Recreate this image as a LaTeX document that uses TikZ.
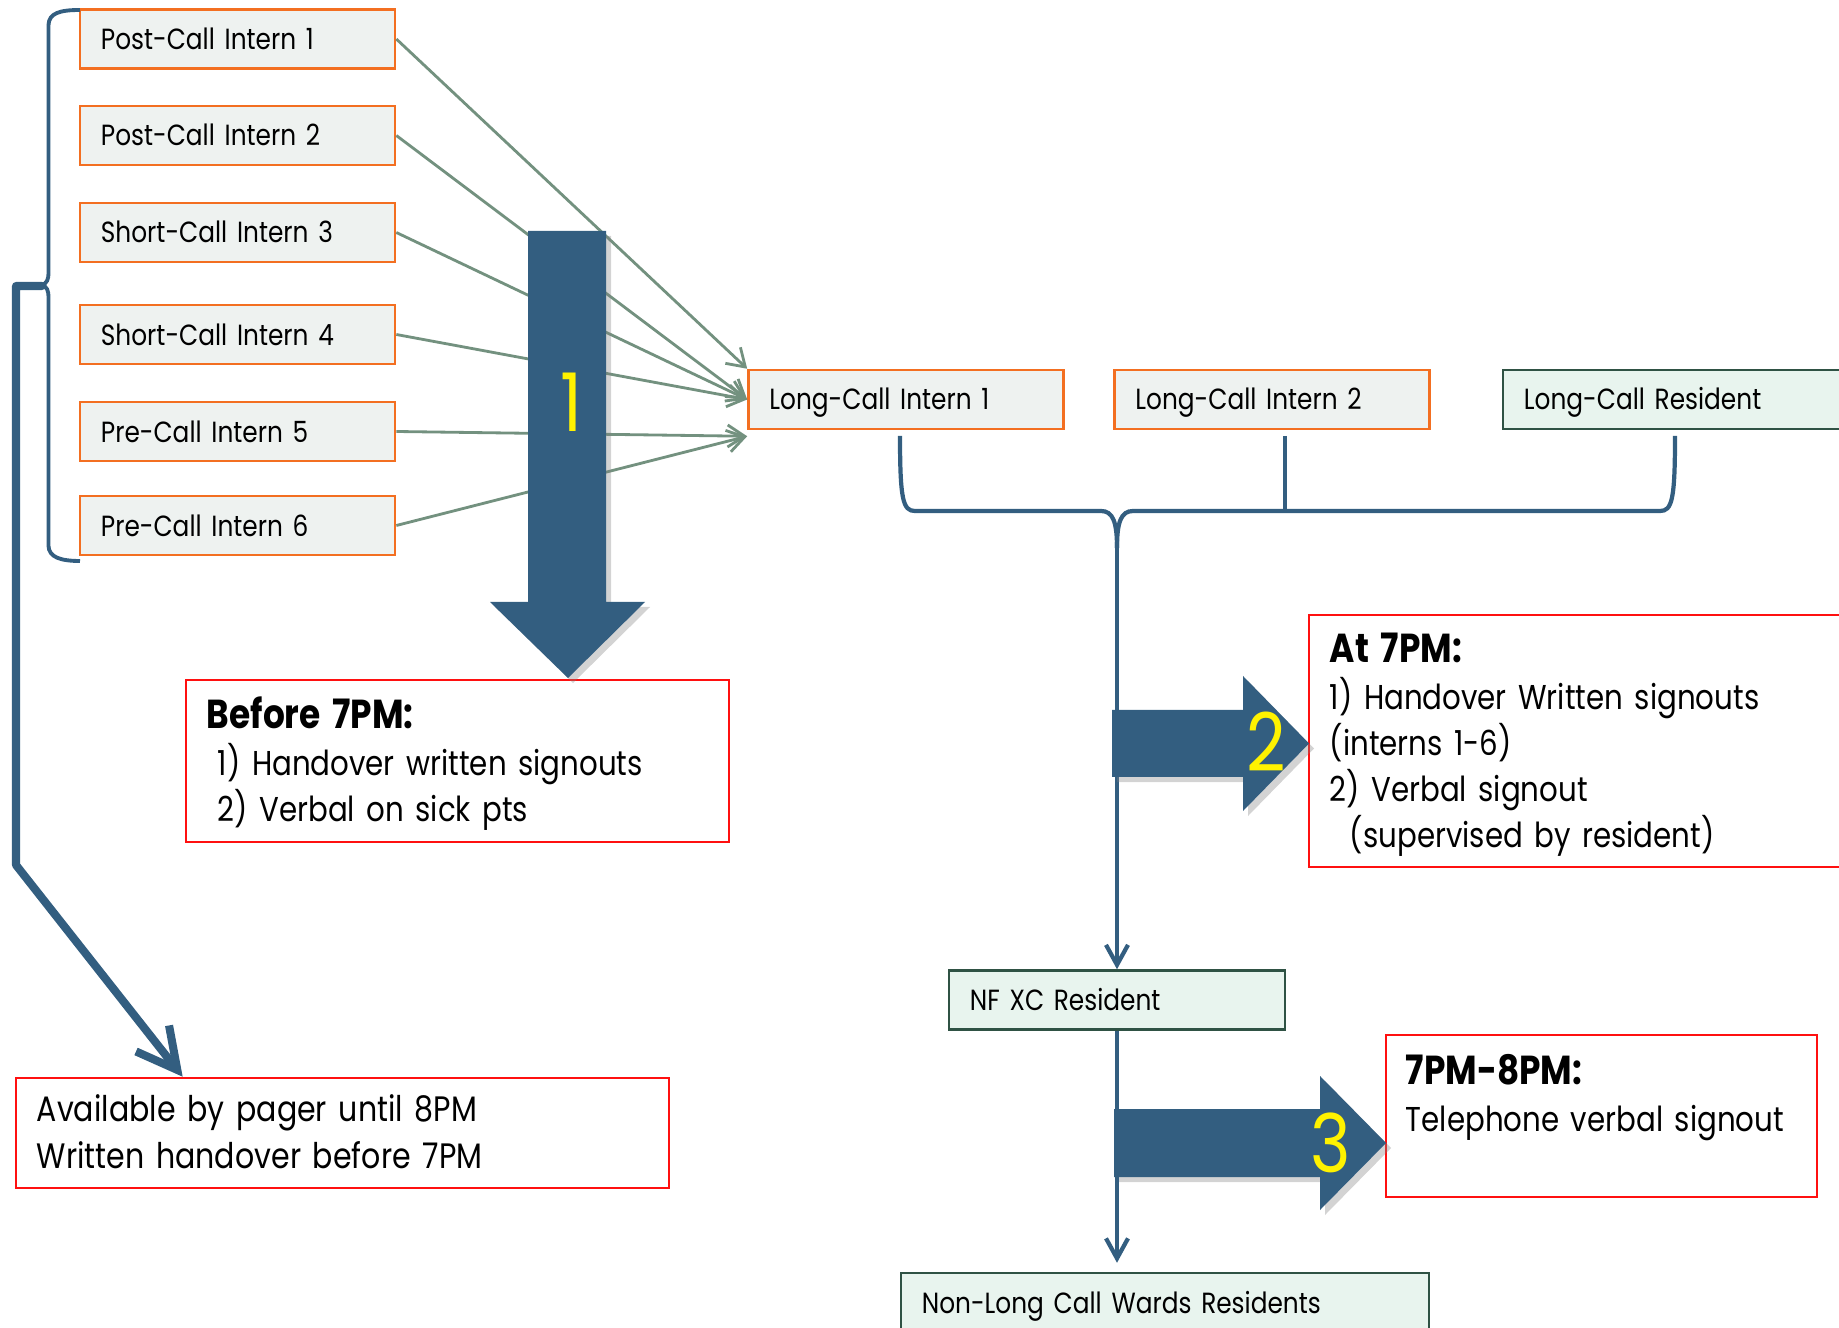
\documentclass[tikz,border=0pt]{standalone}
\usepackage{fontspec}
\setmainfont{Poppins}[FakeStretch=0.85]
\usetikzlibrary{arrows.meta,shadows}
\definecolor{navy}{HTML}{335E80}
\definecolor{boxorange}{HTML}{F36F21}
\definecolor{boxgray}{HTML}{EEF2F0}
\definecolor{resgreen}{HTML}{2F5244}
\definecolor{resfill}{HTML}{E8F4EE}
\definecolor{feedgreen}{HTML}{73917F}
\definecolor{notered}{HTML}{FF1010}
\newcommand{\boxfont}{\fontsize{8.3}{10}\selectfont}
\newcommand{\notefont}{\fontsize{9.8}{13.1}\selectfont}
\newcommand{\headfont}{\bfseries\fontsize{11.5}{13.1}\selectfont}
\tikzset{
  staffbox/.style={draw=boxorange, fill=boxgray, line width=0.7pt, font=\boxfont, align=left,
    inner xsep=0.21cm, inner ysep=0pt, text height=0.40cm, text depth=0.19cm, text width=2.73cm},
  resbox/.style={staffbox, draw=resgreen, fill=resfill},
  notebox/.style={draw=notered, line width=0.7pt, font=\notefont, align=left, inner xsep=0.21cm, inner ysep=0pt},
  feed/.style={draw=feedgreen, line width=0.8pt, -{Straight Barb[length=0.17cm,width=0.22cm]}},
  flow/.style={draw=navy, line width=1.2pt},
  flowtip/.style={flow, -{Straight Barb[length=0.2cm,width=0.22cm]}},
  bigarrow/.style={fill=navy, drop shadow={shadow xshift=0.05cm, shadow yshift=-0.05cm, opacity=0.35}},
  stepnum/.style={text=yellow, font=\fontsize{23}{23}\selectfont, inner sep=0pt}
}
\begin{document}
\begin{tikzpicture}[x=0.01cm, y=-0.01cm]
\useasboundingbox (0,0) rectangle (1839,1328);

% interns handing over
\node[staffbox] (pc1) at (237.5,39) {Post-Call Intern 1};
\node[staffbox] (pc2) at (237.5,135.5) {Post-Call Intern 2};
\node[staffbox] (sc3) at (237.5,232.5) {Short-Call Intern 3};
\node[staffbox] (sc4) at (237.5,334.5) {Short-Call Intern 4};
\node[staffbox] (pre5) at (237.5,431.5) {Pre-Call Intern 5};
\node[staffbox] (pre6) at (237.5,525.5) {Pre-Call Intern 6};

\node[staffbox] (lci1) at (906,399.5) {Long-Call Intern 1};
\node[staffbox] (lci2) at (1272,399.5) {Long-Call Intern 2};
\node[resbox, text width=3.02cm] (lcr) at (1675,399.5) {Long-Call Resident};
\node[resbox, text width=2.94cm] (nfxc) at (1117,1000) {NF XC Resident};
\node[resbox, text width=4.86cm] (wards) at (1165,1302.5) {Non-Long Call Wards Residents};

% notes
\node[notebox, text width=5.01cm, text height=0.49cm, text depth=1.13cm] (before) at (457.5,761)
{{\headfont Before 7PM:}\\\hspace*{0.11cm}1) Handover written signouts\\\hspace*{0.11cm}2) Verbal on sick pts};
\node[notebox, text width=5.0cm, text height=0.48cm, text depth=2.04cm] (atseven) at (1580,741)
{{\headfont At 7PM:}\\1) Handover Written signouts\\(interns 1-6)\\2) Verbal signout\\\hspace*{0.2cm}(supervised by resident)};
\node[notebox, text width=3.91cm, inner xsep=0.2cm, text height=0.50cm, text depth=1.12cm] (late) at (1601.5,1116)
{{\headfont 7PM-8PM:}\\Telephone verbal signout};
\node[notebox, font=\fontsize{10.05}{13.1}\selectfont, text width=6.11cm, text height=0.44cm, text depth=0.66cm] (pager) at (342.5,1133)
{Available by pager until 8PM\\Written handover before 7PM};

\coordinate (lowtip) at ([yshift=-0.06cm]lci1.south west);
\draw[feed] (pc1.east) -- (lci1.north west);
\draw[feed] (pc2.east) -- (lci1.west);
\draw[feed] (sc3.east) -- (lci1.west);
\draw[feed] (sc4.east) -- (lci1.west);
\draw[feed] (pre5.east) -- (lowtip);
\draw[feed] (pre6.east) -- (lowtip);

% brace round the six interns, and the line to the pager note
\draw[navy, line width=1.1pt] (80,10) .. controls (60,10) and (49,13) .. (48.5,25) -- (48.5,272)
  .. controls (48.5,280) and (47,283) .. (42,285) .. controls (47,287) and (48.5,290) .. (48.5,298)
  -- (48.5,546) .. controls (49,557) and (60,561) .. (80,561);
\coordinate (bracetip) at (42,286);
\draw[navy, line width=2.3pt, line cap=round, line join=round, -{Straight Barb[length=0.4cm,width=0.42cm]}]
  (bracetip) -- (16,286) -- (16,865) -- ([xshift=1.68cm]pager.north west);

% long-call team joins into one line
\coordinate (jn) at (1117,548);
\draw[flow] (900,436) .. controls (900,500) and (903,511) .. (915,511) -- (1101,511)
  .. controls (1113,511) and (1117,522) .. (jn);
\draw[flow] (1675,436) .. controls (1675,500) and (1672,511) .. (1660,511) -- (1133,511)
  .. controls (1121,511) and (1117,522) .. (jn);
\draw[flow] (1285,436) -- (1285,511);
\draw[flowtip] (jn) -- (nfxc.north);
\draw[flowtip, shorten >=0.09cm] (nfxc.south) -- (nfxc.south |- wards.north);

% step arrows
\fill[bigarrow] (528,231) -- (606,231) -- (606,602) -- (645,602) -- (568,678) -- (490,602) -- (528,602) -- cycle;
\fill[bigarrow] (1112,710) -- (1243,710) -- (1243,676) -- (1309,743.5) -- (1243,811) -- (1243,777) -- (1112,777) -- cycle;
\fill[bigarrow] (1114,1109) -- (1320,1109) -- (1320,1076) -- (1386,1143) -- (1320,1210) -- (1320,1177) -- (1114,1177) -- cycle;
\node[stepnum] (one) at (571,402) {1};
\node[stepnum] (two) at (1266,742) {2};
\node[stepnum] (three) at (1331,1143) {3};
\end{tikzpicture}
\end{document}
